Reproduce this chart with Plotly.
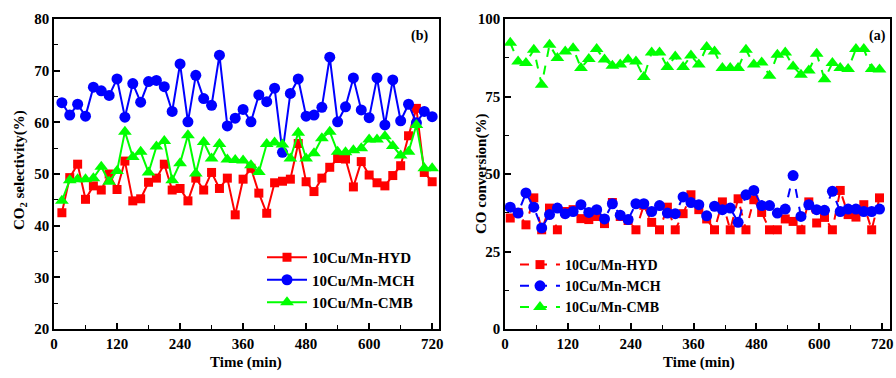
import plotly.graph_objects as go

# ---------------- data ----------------
time_sel = [15 * i for i in range(1, 49)]  # min, left panel (b)
time_conv = [10 + 15 * i for i in range(48)]  # min, right panel (a)

sel_hyd = [42.5, 49.3, 51.9, 45.1, 47.7, 46.9, 50.0, 47.0, 52.5, 44.8, 45.2, 48.4,
           49.2, 51.9, 46.9, 47.2, 44.8, 49.2, 46.9, 50.3, 47.2, 49.2, 42.1, 49.0,
           51.1, 46.3, 42.4, 48.3, 48.6, 49.0, 55.9, 48.5, 46.6, 49.2, 51.3, 53.0,
           52.9, 47.5, 52.4, 49.8, 48.3, 47.7, 49.7, 51.6, 57.4, 62.7, 50.3, 48.5]
sel_mch = [63.8, 61.4, 63.5, 61.2, 66.8, 66.1, 65.2, 68.4, 61.0, 67.5, 63.9, 67.9,
           68.1, 66.9, 62.1, 71.3, 60.1, 69.1, 64.6, 63.3, 73.0, 59.3, 60.8, 62.5,
           60.1, 65.3, 64.0, 66.6, 54.2, 65.6, 68.4, 61.2, 61.4, 62.9, 72.6, 60.1,
           63.0, 68.6, 62.4, 60.9, 68.6, 59.5, 68.2, 60.3, 63.5, 59.9, 62.1, 61.1]
sel_cmb = [44.8, 48.8, 49.0, 49.0, 49.2, 51.4, 48.5, 50.6, 58.2, 53.3, 54.3, 50.3,
           55.3, 56.4, 48.8, 52.1, 57.5, 50.1, 56.2, 53.0, 55.8, 52.8, 52.7, 52.6,
           51.7, 50.4, 55.8, 56.1, 55.7, 53.0, 58.0, 53.0, 54.0, 56.9, 58.2, 54.3,
           54.2, 54.6, 55.0, 56.7, 56.7, 57.3, 55.4, 53.6, 54.3, 59.5, 51.1, 51.1]

conv_hyd = [35.8, 37.6, 33.6, 42.3, 32.0, 39.0, 32.0, 37.9, 38.5, 35.6, 35.3, 36.3,
            34.0, 40.8, 36.3, 35.0, 32.0, 39.9, 34.4, 32.0, 39.3, 32.0, 37.2, 43.3,
            38.5, 35.5, 32.0, 41.0, 32.0, 42.0, 32.0, 41.7, 37.6, 32.0, 32.0, 35.5,
            34.7, 32.0, 41.0, 34.2, 36.0, 32.0, 44.7, 36.9, 36.1, 40.1, 32.0, 42.3]
conv_mch = [39.3, 37.4, 43.9, 39.3, 32.6, 36.9, 39.0, 37.2, 37.9, 40.1, 37.6, 38.5,
            35.5, 40.4, 36.7, 35.3, 40.4, 40.4, 37.9, 39.8, 37.4, 37.2, 42.6, 40.8,
            40.1, 36.5, 39.6, 38.5, 39.0, 34.4, 43.3, 44.7, 39.8, 39.8, 37.4, 38.7,
            49.5, 36.3, 40.1, 38.5, 38.3, 44.4, 37.9, 38.7, 38.7, 37.9, 37.9, 38.7]
conv_cmb = [92.3, 86.3, 85.8, 90.1, 78.8, 91.7, 87.4, 89.5, 90.6, 84.2, 87.1, 90.3,
            86.9, 84.9, 85.3, 86.9, 86.3, 81.3, 89.2, 89.2, 84.5, 87.9, 84.5, 88.2,
            85.3, 91.0, 89.5, 84.2, 84.2, 84.2, 90.1, 85.3, 86.0, 81.7, 88.5, 89.2,
            84.7, 82.0, 83.4, 88.8, 80.6, 85.8, 84.2, 83.9, 90.3, 90.3, 83.9, 83.7]

names = ["10Cu/Mn-HYD", "10Cu/Mn-MCH", "10Cu/Mn-CMB"]
colors = ["#FF0000", "#0000FF", "#00FF00"]
symbols = ["square", "circle", "triangle-up"]
msizes = [9, 11, 12]

FONT = "Liberation Serif"

fig = go.Figure()

for name, vals, c, s, ms in zip(names, [sel_hyd, sel_mch, sel_cmb], colors, symbols, msizes):
    fig.add_trace(go.Scatter(
        x=time_sel, y=vals, mode="lines+markers", name=name,
        line=dict(color=c, width=2),
        marker=dict(color=c, symbol=s, size=ms),
        xaxis="x", yaxis="y", legend="legend"))

for name, vals, c, s, ms in zip(names, [conv_hyd, conv_mch, conv_cmb], colors, symbols, msizes):
    fig.add_trace(go.Scatter(
        x=time_conv, y=vals, mode="lines+markers", name=name,
        line=dict(color=c, width=2, dash="dash"),
        marker=dict(color=c, symbol=s, size=ms),
        xaxis="x2", yaxis="y2", legend="legend2"))

axis_common = dict(
    showline=True, linecolor="black", linewidth=1.5, mirror=True,
    ticks="inside", ticklen=6, tickwidth=1.5, tickcolor="black",
    showgrid=False, zeroline=False, automargin=False,
    tickfont=dict(family=FONT, size=15, color="black", weight="bold"),
)
minor_common = dict(ticks="inside", ticklen=4, tickcolor="black", tickwidth=1.2, showgrid=False)

ydom = [1 - 329 / 378, 1 - 19 / 378]


def ann(text, x, y, angle=0, size=15):
    return dict(text=text, x=x / 896, y=1 - y / 378, xref="paper", yref="paper",
                xanchor="center", yanchor="middle", textangle=angle, showarrow=False,
                font=dict(family=FONT, size=size, color="black"))


fig.update_layout(
    width=896, height=378,
    margin=dict(l=0, r=0, t=0, b=0, autoexpand=False),
    paper_bgcolor="white", plot_bgcolor="white",
    showlegend=True,
    xaxis=dict(domain=[54 / 896, 439 / 896], range=[0, 733], tickvals=[0, 120, 240, 360, 480, 600, 720],
               minor=dict(dtick=60, **minor_common), anchor="y", **axis_common),
    yaxis=dict(domain=ydom, range=[20, 80], dtick=10,
               minor=dict(dtick=5, **minor_common), anchor="x", **axis_common),
    xaxis2=dict(domain=[505 / 896, 890 / 896], range=[0, 735], tickvals=[0, 120, 240, 360, 480, 600, 720],
                minor=dict(dtick=60, **minor_common), anchor="y2", **axis_common),
    yaxis2=dict(domain=ydom, range=[0, 100], dtick=25,
                minor=dict(dtick=12.5, **minor_common), anchor="x2", **axis_common),
    legend=dict(x=262 / 896, y=1 - 241 / 378, xanchor="left", yanchor="top",
                bgcolor="rgba(0,0,0,0)", tracegroupgap=0, itemwidth=40,
                font=dict(family=FONT, size=15, color="black", weight="bold")),
    legend2=dict(x=515 / 896, y=1 - 249 / 378, xanchor="left", yanchor="top",
                 bgcolor="rgba(0,0,0,0)", tracegroupgap=0, itemwidth=40,
                 font=dict(family=FONT, size=14, color="black", weight="bold")),
    annotations=[
        ann("<b>(b)</b>", 419, 36, size=14),
        ann("<b>(a)</b>", 877, 36, size=14),
        ann("<b>Time (min)</b>", 246, 362),
        ann("<b>Time (min)</b>", 699, 362),
        ann("<b>CO<sub>2</sub> selectivity(%)</b>", 20, 170, angle=-90),
        ann("<b>CO conversion(%)</b>", 482, 174, angle=-90),
    ],
)

fig.write_html("out.html", config={"displayModeBar": False},
               post_script="document.body.style.margin='0px';")
